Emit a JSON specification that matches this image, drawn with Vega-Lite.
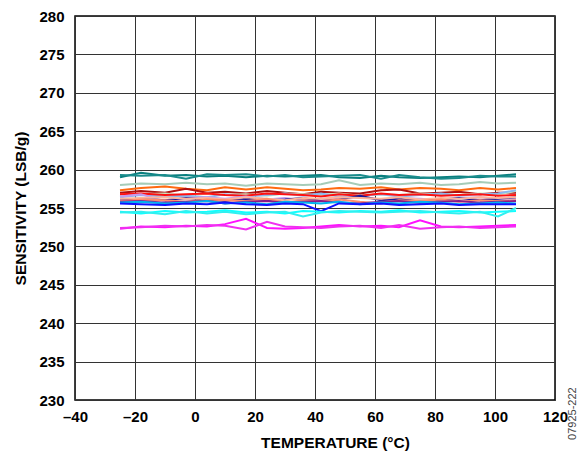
{
"$schema": "https://vega.github.io/schema/vega-lite/v6.json",
"width": 480, "height": 384,
"autosize": {"type": "none"},
"padding": {"left": 75, "top": 16, "right": 30, "bottom": 52},
"background": "white",
"encoding": {
"x": {"field": "t", "type": "quantitative", "scale": {"domain": [-40, 120], "nice": false, "zero": false},
 "axis": {"title": "TEMPERATURE (°C)", "titleX": 260, "titleAnchor": "middle", "values": [-40,-20,0,20,40,60,80,100,120], "labelExpr": "datum.value < 0 ? '–' + abs(datum.value) : '' + datum.value", "titlePadding": 11, "labelPadding": 9}},
"y": {"field": "v", "type": "quantitative", "scale": {"domain": [230, 280], "nice": false, "zero": false},
 "axis": {"title": "SENSITIVITY (LSB/g)", "values": [230,235,240,245,250,255,260,265,270,275,280], "titlePadding": 10, "labelPadding": 11}}
},
"layer": [
{
"data": {"values": [
{"s":"teal1","t":-25,"v":259.0},{"s":"teal1","t":-18,"v":259.6},{"s":"teal1","t":-10,"v":259.2},{"s":"teal1","t":-3,"v":259.3},{"s":"teal1","t":4,"v":259.1},{"s":"teal1","t":10,"v":259.2},{"s":"teal1","t":17,"v":259.0},{"s":"teal1","t":24,"v":259.2},{"s":"teal1","t":30,"v":259.1},{"s":"teal1","t":36,"v":259.2},{"s":"teal1","t":42,"v":259.3},{"s":"teal1","t":48,"v":259.0},{"s":"teal1","t":55,"v":258.9},{"s":"teal1","t":62,"v":259.2},{"s":"teal1","t":68,"v":259.0},{"s":"teal1","t":75,"v":258.9},{"s":"teal1","t":82,"v":259.0},{"s":"teal1","t":88,"v":259.1},{"s":"teal1","t":95,"v":259.0},{"s":"teal1","t":101,"v":259.2},{"s":"teal1","t":107,"v":259.4},
{"s":"teal2","t":-25,"v":259.3},{"s":"teal2","t":-18,"v":259.2},{"s":"teal2","t":-10,"v":259.3},{"s":"teal2","t":-3,"v":258.8},{"s":"teal2","t":4,"v":259.4},{"s":"teal2","t":10,"v":259.3},{"s":"teal2","t":17,"v":259.4},{"s":"teal2","t":24,"v":259.1},{"s":"teal2","t":30,"v":259.3},{"s":"teal2","t":36,"v":259.0},{"s":"teal2","t":42,"v":259.1},{"s":"teal2","t":48,"v":259.2},{"s":"teal2","t":55,"v":259.3},{"s":"teal2","t":62,"v":258.8},{"s":"teal2","t":68,"v":259.3},{"s":"teal2","t":75,"v":259.0},{"s":"teal2","t":82,"v":258.8},{"s":"teal2","t":88,"v":258.9},{"s":"teal2","t":95,"v":259.2},{"s":"teal2","t":101,"v":259.1},{"s":"teal2","t":107,"v":259.1},
{"s":"sage","t":-25,"v":258.0},{"s":"sage","t":-18,"v":258.2},{"s":"sage","t":-10,"v":258.1},{"s":"sage","t":-3,"v":258.3},{"s":"sage","t":4,"v":258.1},{"s":"sage","t":10,"v":258.2},{"s":"sage","t":17,"v":257.9},{"s":"sage","t":24,"v":258.2},{"s":"sage","t":30,"v":258.1},{"s":"sage","t":36,"v":258.0},{"s":"sage","t":42,"v":258.1},{"s":"sage","t":48,"v":258.6},{"s":"sage","t":55,"v":258.0},{"s":"sage","t":62,"v":258.2},{"s":"sage","t":68,"v":258.1},{"s":"sage","t":75,"v":258.3},{"s":"sage","t":82,"v":258.0},{"s":"sage","t":88,"v":258.1},{"s":"sage","t":95,"v":258.4},{"s":"sage","t":101,"v":258.2},{"s":"sage","t":107,"v":258.3},
{"s":"orange","t":-25,"v":257.3},{"s":"orange","t":-18,"v":257.6},{"s":"orange","t":-10,"v":257.8},{"s":"orange","t":-3,"v":257.5},{"s":"orange","t":4,"v":257.3},{"s":"orange","t":10,"v":257.7},{"s":"orange","t":17,"v":257.4},{"s":"orange","t":24,"v":257.7},{"s":"orange","t":30,"v":257.5},{"s":"orange","t":36,"v":257.3},{"s":"orange","t":42,"v":257.4},{"s":"orange","t":48,"v":257.6},{"s":"orange","t":55,"v":257.5},{"s":"orange","t":62,"v":257.7},{"s":"orange","t":68,"v":257.4},{"s":"orange","t":75,"v":257.6},{"s":"orange","t":82,"v":257.5},{"s":"orange","t":88,"v":257.3},{"s":"orange","t":95,"v":257.6},{"s":"orange","t":101,"v":257.4},{"s":"orange","t":107,"v":257.6},
{"s":"darkred","t":-25,"v":257.0},{"s":"darkred","t":-18,"v":257.2},{"s":"darkred","t":-10,"v":257.0},{"s":"darkred","t":-3,"v":257.5},{"s":"darkred","t":4,"v":257.0},{"s":"darkred","t":10,"v":257.1},{"s":"darkred","t":17,"v":256.9},{"s":"darkred","t":24,"v":257.2},{"s":"darkred","t":30,"v":257.0},{"s":"darkred","t":36,"v":256.8},{"s":"darkred","t":42,"v":257.1},{"s":"darkred","t":48,"v":257.0},{"s":"darkred","t":55,"v":256.9},{"s":"darkred","t":62,"v":257.3},{"s":"darkred","t":68,"v":257.4},{"s":"darkred","t":75,"v":256.9},{"s":"darkred","t":82,"v":257.0},{"s":"darkred","t":88,"v":257.1},{"s":"darkred","t":95,"v":256.8},{"s":"darkred","t":101,"v":257.0},{"s":"darkred","t":107,"v":257.0},
{"s":"lightgreen","t":-25,"v":256.6},{"s":"lightgreen","t":-18,"v":256.8},{"s":"lightgreen","t":-10,"v":256.9},{"s":"lightgreen","t":-3,"v":256.6},{"s":"lightgreen","t":4,"v":256.9},{"s":"lightgreen","t":10,"v":256.7},{"s":"lightgreen","t":17,"v":256.8},{"s":"lightgreen","t":24,"v":256.6},{"s":"lightgreen","t":30,"v":256.9},{"s":"lightgreen","t":36,"v":256.8},{"s":"lightgreen","t":42,"v":256.7},{"s":"lightgreen","t":48,"v":256.9},{"s":"lightgreen","t":55,"v":256.6},{"s":"lightgreen","t":62,"v":256.8},{"s":"lightgreen","t":68,"v":256.7},{"s":"lightgreen","t":75,"v":256.9},{"s":"lightgreen","t":82,"v":256.8},{"s":"lightgreen","t":88,"v":256.7},{"s":"lightgreen","t":95,"v":256.9},{"s":"lightgreen","t":101,"v":256.8},{"s":"lightgreen","t":107,"v":257.2},
{"s":"lightblue","t":-25,"v":256.4},{"s":"lightblue","t":-18,"v":256.7},{"s":"lightblue","t":-10,"v":256.5},{"s":"lightblue","t":-3,"v":256.6},{"s":"lightblue","t":4,"v":256.4},{"s":"lightblue","t":10,"v":256.8},{"s":"lightblue","t":17,"v":256.5},{"s":"lightblue","t":24,"v":256.7},{"s":"lightblue","t":30,"v":256.9},{"s":"lightblue","t":36,"v":256.6},{"s":"lightblue","t":42,"v":256.9},{"s":"lightblue","t":48,"v":256.5},{"s":"lightblue","t":55,"v":256.6},{"s":"lightblue","t":62,"v":256.8},{"s":"lightblue","t":68,"v":256.5},{"s":"lightblue","t":75,"v":256.7},{"s":"lightblue","t":82,"v":256.9},{"s":"lightblue","t":88,"v":256.6},{"s":"lightblue","t":95,"v":256.8},{"s":"lightblue","t":101,"v":256.9},{"s":"lightblue","t":107,"v":257.3},
{"s":"red","t":-25,"v":256.8},{"s":"red","t":-18,"v":256.9},{"s":"red","t":-10,"v":256.7},{"s":"red","t":-3,"v":256.8},{"s":"red","t":4,"v":256.9},{"s":"red","t":10,"v":256.7},{"s":"red","t":17,"v":256.6},{"s":"red","t":24,"v":256.9},{"s":"red","t":30,"v":256.8},{"s":"red","t":36,"v":256.7},{"s":"red","t":42,"v":256.5},{"s":"red","t":48,"v":256.8},{"s":"red","t":55,"v":256.6},{"s":"red","t":62,"v":256.9},{"s":"red","t":68,"v":256.7},{"s":"red","t":75,"v":256.8},{"s":"red","t":82,"v":256.6},{"s":"red","t":88,"v":256.7},{"s":"red","t":95,"v":256.8},{"s":"red","t":101,"v":256.6},{"s":"red","t":107,"v":256.7},
{"s":"lavender","t":-25,"v":256.5},{"s":"lavender","t":-18,"v":256.8},{"s":"lavender","t":-10,"v":255.9},{"s":"lavender","t":-3,"v":256.3},{"s":"lavender","t":4,"v":256.4},{"s":"lavender","t":10,"v":256.2},{"s":"lavender","t":17,"v":256.5},{"s":"lavender","t":24,"v":256.1},{"s":"lavender","t":30,"v":256.3},{"s":"lavender","t":36,"v":256.0},{"s":"lavender","t":42,"v":256.2},{"s":"lavender","t":48,"v":256.3},{"s":"lavender","t":55,"v":256.4},{"s":"lavender","t":62,"v":256.1},{"s":"lavender","t":68,"v":256.3},{"s":"lavender","t":75,"v":256.2},{"s":"lavender","t":82,"v":256.0},{"s":"lavender","t":88,"v":256.3},{"s":"lavender","t":95,"v":256.4},{"s":"lavender","t":101,"v":256.2},{"s":"lavender","t":107,"v":256.2},
{"s":"navy","t":-25,"v":256.1},{"s":"navy","t":-18,"v":256.2},{"s":"navy","t":-10,"v":256.0},{"s":"navy","t":-3,"v":256.3},{"s":"navy","t":4,"v":256.1},{"s":"navy","t":10,"v":255.9},{"s":"navy","t":17,"v":256.2},{"s":"navy","t":24,"v":256.0},{"s":"navy","t":30,"v":256.1},{"s":"navy","t":36,"v":256.3},{"s":"navy","t":42,"v":255.9},{"s":"navy","t":48,"v":256.1},{"s":"navy","t":55,"v":256.6},{"s":"navy","t":62,"v":256.0},{"s":"navy","t":68,"v":256.2},{"s":"navy","t":75,"v":255.9},{"s":"navy","t":82,"v":256.1},{"s":"navy","t":88,"v":256.3},{"s":"navy","t":95,"v":256.0},{"s":"navy","t":101,"v":256.2},{"s":"navy","t":107,"v":256.4},
{"s":"lightsalmon","t":-25,"v":256.2},{"s":"lightsalmon","t":-18,"v":256.3},{"s":"lightsalmon","t":-10,"v":256.4},{"s":"lightsalmon","t":-3,"v":256.2},{"s":"lightsalmon","t":4,"v":256.3},{"s":"lightsalmon","t":10,"v":256.1},{"s":"lightsalmon","t":17,"v":256.4},{"s":"lightsalmon","t":24,"v":256.2},{"s":"lightsalmon","t":30,"v":256.0},{"s":"lightsalmon","t":36,"v":256.3},{"s":"lightsalmon","t":42,"v":256.2},{"s":"lightsalmon","t":48,"v":256.4},{"s":"lightsalmon","t":55,"v":256.3},{"s":"lightsalmon","t":62,"v":256.2},{"s":"lightsalmon","t":68,"v":256.4},{"s":"lightsalmon","t":75,"v":256.1},{"s":"lightsalmon","t":82,"v":256.3},{"s":"lightsalmon","t":88,"v":256.2},{"s":"lightsalmon","t":95,"v":256.4},{"s":"lightsalmon","t":101,"v":256.3},{"s":"lightsalmon","t":107,"v":256.4},
{"s":"salmon","t":-25,"v":255.9},{"s":"salmon","t":-18,"v":256.1},{"s":"salmon","t":-10,"v":256.0},{"s":"salmon","t":-3,"v":255.8},{"s":"salmon","t":4,"v":256.1},{"s":"salmon","t":10,"v":256.0},{"s":"salmon","t":17,"v":255.9},{"s":"salmon","t":24,"v":256.2},{"s":"salmon","t":30,"v":255.7},{"s":"salmon","t":36,"v":256.0},{"s":"salmon","t":42,"v":255.9},{"s":"salmon","t":48,"v":256.1},{"s":"salmon","t":55,"v":255.8},{"s":"salmon","t":62,"v":255.6},{"s":"salmon","t":68,"v":256.0},{"s":"salmon","t":75,"v":255.9},{"s":"salmon","t":82,"v":256.1},{"s":"salmon","t":88,"v":255.8},{"s":"salmon","t":95,"v":256.0},{"s":"salmon","t":101,"v":255.9},{"s":"salmon","t":107,"v":256.0},
{"s":"purple","t":-25,"v":255.8},{"s":"purple","t":-18,"v":255.9},{"s":"purple","t":-10,"v":255.7},{"s":"purple","t":-3,"v":255.8},{"s":"purple","t":4,"v":255.9},{"s":"purple","t":10,"v":255.6},{"s":"purple","t":17,"v":255.8},{"s":"purple","t":24,"v":255.9},{"s":"purple","t":30,"v":255.7},{"s":"purple","t":36,"v":255.8},{"s":"purple","t":42,"v":255.9},{"s":"purple","t":48,"v":255.7},{"s":"purple","t":55,"v":255.6},{"s":"purple","t":62,"v":255.8},{"s":"purple","t":68,"v":255.9},{"s":"purple","t":75,"v":255.7},{"s":"purple","t":82,"v":255.8},{"s":"purple","t":88,"v":255.9},{"s":"purple","t":95,"v":255.7},{"s":"purple","t":101,"v":255.8},{"s":"purple","t":107,"v":255.9},
{"s":"deepsky","t":-25,"v":255.7},{"s":"deepsky","t":-18,"v":255.8},{"s":"deepsky","t":-10,"v":255.6},{"s":"deepsky","t":-3,"v":255.7},{"s":"deepsky","t":4,"v":255.9},{"s":"deepsky","t":10,"v":255.6},{"s":"deepsky","t":17,"v":255.7},{"s":"deepsky","t":24,"v":255.5},{"s":"deepsky","t":30,"v":255.8},{"s":"deepsky","t":36,"v":255.7},{"s":"deepsky","t":42,"v":255.6},{"s":"deepsky","t":48,"v":255.8},{"s":"deepsky","t":55,"v":255.5},{"s":"deepsky","t":62,"v":255.7},{"s":"deepsky","t":68,"v":255.6},{"s":"deepsky","t":75,"v":255.8},{"s":"deepsky","t":82,"v":255.7},{"s":"deepsky","t":88,"v":255.5},{"s":"deepsky","t":95,"v":255.6},{"s":"deepsky","t":101,"v":255.7},{"s":"deepsky","t":107,"v":255.6},
{"s":"blue","t":-25,"v":255.6},{"s":"blue","t":-18,"v":255.5},{"s":"blue","t":-10,"v":255.4},{"s":"blue","t":-3,"v":255.6},{"s":"blue","t":4,"v":255.5},{"s":"blue","t":10,"v":255.7},{"s":"blue","t":17,"v":255.5},{"s":"blue","t":24,"v":255.4},{"s":"blue","t":30,"v":255.6},{"s":"blue","t":36,"v":255.5},{"s":"blue","t":42,"v":254.6},{"s":"blue","t":48,"v":255.6},{"s":"blue","t":55,"v":255.5},{"s":"blue","t":62,"v":255.6},{"s":"blue","t":68,"v":255.4},{"s":"blue","t":75,"v":255.5},{"s":"blue","t":82,"v":255.6},{"s":"blue","t":88,"v":255.4},{"s":"blue","t":95,"v":255.5},{"s":"blue","t":101,"v":255.5},{"s":"blue","t":107,"v":255.5},
{"s":"cyan1","t":-25,"v":254.5},{"s":"cyan1","t":-18,"v":254.3},{"s":"cyan1","t":-10,"v":254.6},{"s":"cyan1","t":-3,"v":254.4},{"s":"cyan1","t":4,"v":254.5},{"s":"cyan1","t":10,"v":254.7},{"s":"cyan1","t":17,"v":254.4},{"s":"cyan1","t":24,"v":254.5},{"s":"cyan1","t":30,"v":254.3},{"s":"cyan1","t":36,"v":254.6},{"s":"cyan1","t":42,"v":254.5},{"s":"cyan1","t":48,"v":254.4},{"s":"cyan1","t":55,"v":254.6},{"s":"cyan1","t":62,"v":254.5},{"s":"cyan1","t":68,"v":254.7},{"s":"cyan1","t":75,"v":254.4},{"s":"cyan1","t":82,"v":254.5},{"s":"cyan1","t":88,"v":254.6},{"s":"cyan1","t":95,"v":254.4},{"s":"cyan1","t":101,"v":254.5},{"s":"cyan1","t":107,"v":254.6},
{"s":"cyan2","t":-25,"v":254.4},{"s":"cyan2","t":-18,"v":254.5},{"s":"cyan2","t":-10,"v":254.2},{"s":"cyan2","t":-3,"v":254.6},{"s":"cyan2","t":4,"v":254.3},{"s":"cyan2","t":10,"v":254.5},{"s":"cyan2","t":17,"v":254.2},{"s":"cyan2","t":24,"v":254.4},{"s":"cyan2","t":30,"v":254.5},{"s":"cyan2","t":36,"v":253.9},{"s":"cyan2","t":42,"v":254.4},{"s":"cyan2","t":48,"v":254.6},{"s":"cyan2","t":55,"v":254.5},{"s":"cyan2","t":62,"v":254.4},{"s":"cyan2","t":68,"v":254.5},{"s":"cyan2","t":75,"v":254.6},{"s":"cyan2","t":82,"v":254.4},{"s":"cyan2","t":88,"v":254.3},{"s":"cyan2","t":95,"v":254.5},{"s":"cyan2","t":101,"v":253.9},{"s":"cyan2","t":107,"v":255.0},
{"s":"magenta1","t":-25,"v":252.3},{"s":"magenta1","t":-18,"v":252.6},{"s":"magenta1","t":-10,"v":252.5},{"s":"magenta1","t":-3,"v":252.7},{"s":"magenta1","t":4,"v":252.6},{"s":"magenta1","t":10,"v":252.9},{"s":"magenta1","t":17,"v":253.6},{"s":"magenta1","t":24,"v":252.4},{"s":"magenta1","t":30,"v":252.3},{"s":"magenta1","t":36,"v":252.4},{"s":"magenta1","t":42,"v":252.6},{"s":"magenta1","t":48,"v":252.8},{"s":"magenta1","t":55,"v":252.6},{"s":"magenta1","t":62,"v":252.7},{"s":"magenta1","t":68,"v":252.5},{"s":"magenta1","t":75,"v":253.4},{"s":"magenta1","t":82,"v":252.6},{"s":"magenta1","t":88,"v":252.5},{"s":"magenta1","t":95,"v":252.6},{"s":"magenta1","t":101,"v":252.7},{"s":"magenta1","t":107,"v":252.8},
{"s":"magenta2","t":-25,"v":252.4},{"s":"magenta2","t":-18,"v":252.5},{"s":"magenta2","t":-10,"v":252.7},{"s":"magenta2","t":-3,"v":252.6},{"s":"magenta2","t":4,"v":252.8},{"s":"magenta2","t":10,"v":252.7},{"s":"magenta2","t":17,"v":252.2},{"s":"magenta2","t":24,"v":253.2},{"s":"magenta2","t":30,"v":252.6},{"s":"magenta2","t":36,"v":252.5},{"s":"magenta2","t":42,"v":252.4},{"s":"magenta2","t":48,"v":252.6},{"s":"magenta2","t":55,"v":252.7},{"s":"magenta2","t":62,"v":252.4},{"s":"magenta2","t":68,"v":252.8},{"s":"magenta2","t":75,"v":252.3},{"s":"magenta2","t":82,"v":252.5},{"s":"magenta2","t":88,"v":252.6},{"s":"magenta2","t":95,"v":252.4},{"s":"magenta2","t":101,"v":252.5},{"s":"magenta2","t":107,"v":252.6}
]},
"mark": {"type": "line", "strokeWidth": 2, "interpolate": "linear"},
"encoding": {
"color": {"field": "s", "type": "nominal", "legend": null,
 "scale": {"domain": ["teal1","teal2","sage","orange","darkred","lightgreen","lightblue","red","lavender","navy","lightsalmon","salmon","purple","deepsky","blue","cyan1","cyan2","magenta1","magenta2"],
 "range": ["#0a7f7f","#1a8c8c","#a6ccb8","#ff6a10","#b01010","#c8e8c0","#8ab8f0","#ff1010","#c49cf0","#1a1a9a","#ffb49a","#ff8c6e","#8a1a8a","#00b4f0","#1010ff","#10ffff","#30f0f0","#ff10ff","#f030f0"]}},
"detail": {"field": "s"}
}
},
{
"data": {"values": [{"code": "07925-222", "t": 126, "v": 224.8}]},
"mark": {"type": "text", "angle": 270, "align": "left", "baseline": "middle", "fontSize": 11, "font": "Liberation Sans", "color": "#444", "clip": false},
"encoding": {
"text": {"field": "code"}
}
}
],
"config": {
"view": {"stroke": "black", "strokeWidth": 1.5},
"axis": {"labelFont": "Liberation Sans", "labelFontWeight": "bold", "labelFontSize": 15, "labelColor": "black", "labelFlush": false,
 "titleFont": "Liberation Sans", "titleFontWeight": "bold", "titleFontSize": 15.5, "titleColor": "black",
 "grid": true, "gridColor": "#333", "gridWidth": 1, "gridOpacity": 1, "domain": false, "ticks": false}
}
}
